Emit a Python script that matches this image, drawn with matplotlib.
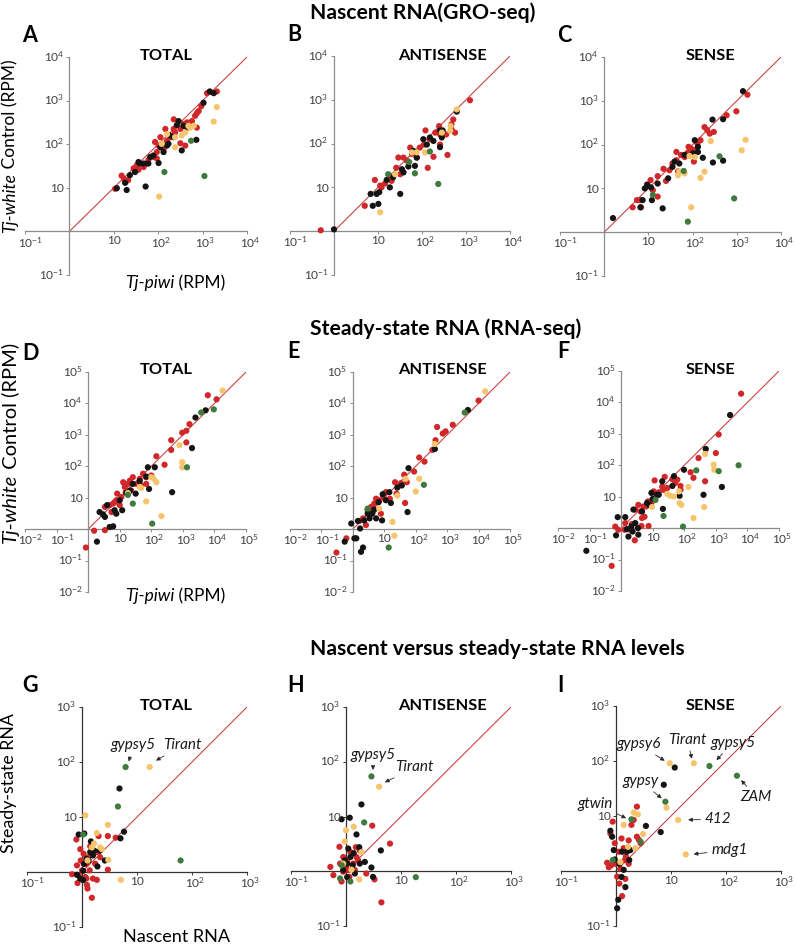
import numpy as np
import matplotlib
matplotlib.use('Agg')
import matplotlib.pyplot as plt
from matplotlib.ticker import NullLocator

# ---------------- data (RPM values) ----------------
# Row 1: Nascent RNA (GRO-seq); x = Tj-piwi, y = Tj-white control
A_red = [(10.7, 9.5), (15, 19), (21, 15), (28, 28), (33, 33), (47, 30), (60, 43), (78, 51), (93, 66),
         (102, 93), (120, 102), (132, 78), (158, 120), (145, 224), (186, 145), (224, 224), (240, 186),
         (316, 224), (372, 288), (447, 316), (575, 339), (676, 447), (741, 240), (813, 575), (933, 741),
         (741, 513), (1480, 1580), (2090, 1620), (316, 105), (407, 93), (93, 47), (55, 36), (36, 26),
         (17, 16), (224, 372), (112, 145), (85, 112), (1260, 1480)]
A_black = [(11.7, 9.8), (18, 13), (19.5, 8.9), (23, 19.5), (30, 23), (36, 39), (47, 36), (52, 10.7),
           (60, 36), (66, 51), (78, 55), (102, 37), (112, 85), (132, 66), (158, 93), (186, 158), (224, 145),
           (263, 275), (288, 339), (339, 72), (372, 263), (447, 240), (724, 126), (1050, 891), (1450, 1620),
           (1780, 1480), (39, 36), (170, 102)]
A_yellow = [(105, 6.3), (120, 102), (240, 85), (240, 145), (339, 158), (407, 186), (525, 240), (631, 263),
            (1780, 331), (2090, 708), (479, 263), (158, 170)]
A_green = [(138, 23), (550, 120), (1100, 18.6)]

B_red = [(0.5, 1.05), (5.0, 3.8), (8.5, 14.8), (12, 10), (14.5, 12.3), (18.2, 18.6), (20.4, 14.1), (26, 28),
         (32, 20), (38, 48), (45, 41), (59, 58), (63, 68), (76, 48), (89, 81), (120, 200), (135, 28),
         (151, 126), (182, 50), (200, 178), (257, 162), (257, 95), (245, 251), (355, 162), (380, 55),
         (468, 214), (513, 355), (562, 178), (1230, 977), (468, 275), (54, 81), (29, 48), (11.2, 11), (112, 95)]
B_black = [(1.0, 1.1), (6.8, 7.1), (7.6, 3.8), (9.3, 7.1), (10.2, 4.2), (10.7, 7.8), (15.8, 14.8), (18.6, 10),
           (22, 17), (32, 7.1), (35, 26), (38, 22), (49, 30), (69, 31), (76, 48), (107, 126), (129, 95),
           (151, 138), (182, 115), (257, 200), (282, 138), (295, 200), (257, 83), (617, 537), (63, 68)]
B_yellow = [(11.2, 2.7), (24.5, 20), (76, 63), (117, 63), (282, 178), (437, 195), (617, 603), (59, 63), (447, 251)]
B_green = [(17, 20), (51, 38), (69, 21), (151, 66), (234, 12)]

C_red = [(4.4, 3.7), (5.5, 5.4), (6.6, 5.4), (6.8, 3.7), (9.3, 12.3), (11.2, 15.5), (12.6, 9.1), (16.2, 6.5),
         (16.2, 19), (22, 28), (25, 14.8), (30, 26), (35, 37), (43, 44), (47, 24.5), (55, 58), (66, 52),
         (78, 65), (93, 81), (112, 74), (129, 105), (151, 126), (107, 41), (186, 251), (214, 214), (245, 178),
         (302, 195), (589, 468), (977, 575), (1740, 1380), (43, 68), (81, 89)]
C_black = [(1.58, 2.1), (6.6, 3.7), (7.4, 5.4), (8.3, 10), (9.5, 12), (11.5, 10.5), (12, 5.4), (16.2, 12.9),
           (21, 3.5), (28, 17), (35, 31), (39, 41), (50, 37), (66, 58), (102, 63), (112, 126), (132, 68),
           (170, 50), (288, 39), (282, 372), (490, 380), (490, 43), (1380, 1660), (132, 89)]
C_yellow = [(47, 20), (50, 24.5), (66, 22), (93, 3.7), (112, 52), (151, 17.4), (186, 24), (257, 120),
            (1290, 74), (1580, 129), (85, 55)]
C_green = [(12.6, 7.1), (63, 25), (78, 1.74), (407, 54), (871, 5.9)]

# Row 2: Steady-state RNA (RNA-seq)
D_red = [(0.85, 0.26), (1.55, 0.89), (3.4, 0.93), (3.4, 5.1), (4.8, 5.8), (5.5, 3.5), (6.9, 7.2), (8.3, 13.5),
         (10, 5.8), (11.2, 10.5), (14.5, 22), (15.5, 15), (18.2, 27.5), (23, 17), (26, 45), (34, 27.5),
         (43, 40), (55, 58), (69, 27.5), (100, 51), (145, 209), (263, 112), (427, 331), (427, 676),
         (955, 1170), (1290, 575), (1290, 1350), (1620, 2190), (6170, 18200), (11700, 13500), (7.8, 8.3),
         (21, 35), (69, 45), (48, 24.5), (6.2, 6.5), (12.9, 31)]
D_black = [(1.9, 0.4), (2.3, 3.5), (3.4, 2.45), (4.0, 5.8), (4.8, 1.17), (6.2, 1.23), (6.9, 4.0), (7.8, 3.1),
           (10, 8.3), (12, 4.0), (16.2, 14.1), (21, 17), (26, 27.5), (32, 13.5), (43, 34), (69, 47), (78, 93),
           (129, 93), (85, 19), (457, 15), (1950, 380), (2510, 3550), (5250, 6030), (2.95, 2.95)]
D_yellow = [(18.2, 14.1), (43, 22), (48, 20.4), (69, 7.6), (100, 45), (120, 40), (145, 31), (209, 2.6),
            (776, 468), (955, 135), (955, 93), (18200, 25700)]
D_green = [(18.2, 12.3), (26, 6.5), (107, 1.5), (1350, 93), (3800, 5130), (9550, 6460)]

E_red = [(0.3, 0.18), (0.62, 0.51), (1.62, 1.82), (2.1, 2.2), (2.6, 1.35), (2.95, 4.0), (3.8, 5.1), (4.3, 3.5),
         (4.8, 6.5), (5.5, 9.3), (6.9, 8.3), (7.8, 3.1), (9.3, 10.5), (11.2, 15), (15, 9.3), (22, 31),
         (24.5, 13.5), (34, 29), (43, 54), (46, 6.8), (52, 31), (89, 68), (129, 190), (190, 141), (339, 331),
         (427, 676), (479, 1780), (724, 1100), (891, 1290), (1510, 2090), (10000, 12300), (6.2, 7.2)]
E_black = [(0.55, 0.4), (0.89, 1.51), (1.12, 0.51), (1.29, 0.51), (1.45, 1.82), (1.7, 1.05), (1.82, 0.19),
           (2.1, 0.26), (2.3, 1.9), (2.95, 3.1), (3.4, 2.2), (4.1, 3.1), (4.8, 4.2), (5.5, 2.2), (6.6, 7.2),
           (8.5, 1.9), (8.9, 12.9), (11.2, 8.3), (14.5, 15), (16.2, 6.8), (26, 21), (36, 24.5), (55, 3.5),
           (59, 87), (407, 355), (4570, 6170)]
E_yellow = [(21, 0.62), (18.2, 1.7), (26, 11.7), (100, 15.8), (129, 40), (48, 40), (407, 513), (16200, 24500), (6.9, 4.5)]
E_green = [(2.95, 4.5), (13.8, 0.26), (182, 25.7), (3630, 5130)]

F_red = [(0.5, 0.063), (0.65, 1.12), (0.81, 0.89), (1.29, 0.89), (1.95, 0.89), (2.2, 1.35), (2.7, 0.41),
         (2.8, 3.9), (3.5, 5.5), (4.1, 3.4), (4.4, 1.17), (4.6, 2.1), (5.5, 2.3), (6.2, 4.9), (7.1, 7.1),
         (7.4, 1.17), (9.1, 6.3), (10.7, 14.8), (11.5, 33), (15.5, 13.8), (22, 16.6), (24, 43), (29, 19),
         (42, 36), (52, 27.5), (60, 35), (76, 22), (76, 16.6), (158, 60), (195, 40), (282, 170), (457, 31),
         (1000, 245), (1230, 955), (6310, 19000), (20, 21), (5.1, 4.9), (1.35, 1.45)]
F_black = [(0.079, 0.19), (0.69, 0.59), (0.78, 2.24), (1.35, 2.24), (1.51, 0.93), (1.7, 0.54), (2.1, 1.12),
           (2.3, 0.78), (2.45, 3.9), (2.8, 1.45), (3.4, 1.0), (3.5, 0.62), (4.6, 3.4), (6.6, 6.3), (7.8, 5.5),
           (9.1, 13.2), (10, 8.5), (13.8, 11.5), (15.5, 11.5), (20, 31), (21, 4.1), (42, 22), (47, 45),
           (71, 10.7), (98, 72), (407, 11.5), (479, 331), (1550, 20.4), (2820, 3980)]
F_yellow = [(9.5, 4.7), (29, 12.3), (36, 10.7), (47, 10.2), (68, 14.8), (71, 6.3), (81, 5.5), (135, 20.4),
            (195, 2.1), (427, 4.7), (457, 229), (851, 105), (891, 72)]
F_green = [(12.3, 7.9), (22, 2.45), (91, 1.12), (240, 69), (1230, 65), (5250, 100)]

# Row 3: nascent (x) versus steady-state (y)
G_red = [(0.66, 0.91), (0.79, 3.9), (0.81, 1.32), (0.83, 0.63), (0.93, 2.6), (0.95, 1.62), (1.0, 1.07),
         (1.07, 2.14), (1.15, 0.81), (1.2, 1.41), (1.23, 0.58), (1.26, 0.5), (1.32, 1.86), (1.38, 1.07),
         (1.51, 0.34), (1.58, 0.76), (1.62, 2.45), (1.74, 1.41), (1.86, 0.72), (2.0, 4.5), (2.14, 1.86),
         (2.95, 1.1), (2.95, 4.5), (4.1, 4.2), (1.41, 2.95), (0.87, 0.87), (1.2, 0.76), (1.07, 1.41), (1.86, 2.3)]
G_black = [(0.81, 0.89), (0.87, 4.8), (0.93, 0.76), (1.05, 0.71), (1.1, 5.0), (1.1, 1.41), (1.2, 1.74),
           (1.32, 1.62), (1.41, 2.3), (1.45, 3.6), (1.58, 2.0), (1.66, 2.45), (1.91, 1.26), (2.1, 2.45),
           (2.6, 1.62), (4.8, 33), (5.0, 4.1), (5.8, 5.4), (1.05, 1.05)]
G_yellow = [(1.15, 10.7), (1.26, 1.62), (1.51, 2.8), (1.86, 5.1), (2.14, 2.8), (2.3, 2.6), (2.95, 7.2),
            (3.0, 1.66), (5.1, 0.72), (17, 81), (1.66, 3.3)]
G_green = [(1.05, 4.8), (4.5, 15.5), (6.2, 81), (62, 1.62)]

H_red = [(0.52, 1.2), (0.59, 0.85), (0.76, 2.8), (0.78, 1.38), (0.83, 0.65), (0.89, 1.82), (1.0, 1.2),
         (1.05, 1.58), (1.15, 0.79), (1.2, 2.24), (1.35, 1.38), (1.45, 1.05), (1.51, 2.75), (1.66, 1.58),
         (1.78, 2.4), (2.34, 0.91), (3.0, 6.8), (3.3, 0.71), (4.4, 0.27), (6.3, 3.2), (1.1, 1.05),
         (0.89, 0.98), (1.55, 1.82)]
H_black = [(0.83, 8.9), (1.05, 0.78), (1.17, 9.5), (0.95, 1.58), (1.05, 1.38), (1.1, 2.6), (1.2, 1.82),
           (1.32, 1.29), (1.45, 0.91), (1.55, 4.7), (1.74, 2.75), (1.78, 1.38), (2.2, 1.48), (1.91, 16.6),
           (2.9, 1.17), (3.1, 0.79), (4.3, 2.4), (1.38, 2.14), (0.89, 1.05)]
H_yellow = [(0.95, 3.5), (1.0, 5.6), (0.89, 1.38), (1.38, 6.5), (1.74, 0.71), (1.91, 2.24), (4.0, 35), (1.26, 1.07)]
H_green = [(0.83, 1.29), (0.78, 0.74), (1.2, 0.65), (2.14, 7.8), (2.9, 54), (18.6, 0.78)]

I_red = [(0.69, 1.41), (0.74, 1.17), (0.79, 4.8), (0.87, 7.9), (0.95, 3.2), (0.98, 1.35), (1.05, 0.79),
         (1.12, 2.24), (1.15, 0.59), (1.2, 1.1), (1.29, 0.35), (1.38, 2.6), (1.45, 1.58), (1.48, 0.72),
         (1.7, 3.6), (1.91, 6.9), (2.1, 8.5), (2.4, 14.8), (2.4, 4.2), (2.6, 3.7), (2.8, 3.2), (1.7, 1.35),
         (0.81, 1.26), (1.51, 1.82), (1.26, 3.9)]
I_black = [(0.79, 5.4), (0.85, 4.2), (0.91, 2.4), (1.05, 0.21), (1.1, 0.3), (1.15, 1.35), (1.26, 0.78),
           (1.29, 2.24), (1.38, 1.05), (1.48, 0.51), (1.58, 2.24), (1.82, 2.4), (3.5, 6.6), (6.5, 5.1),
           (7.4, 37), (11.7, 76), (0.95, 1.62), (1.74, 1.58)]
I_yellow = [(1.38, 6.9), (1.66, 2.75), (2.1, 11.5), (2.5, 10.7), (3.1, 4.7), (1.2, 1.45), (8.3, 14.1),
            (9.5, 91), (13.5, 8.5), (18.6, 2.0), (26, 91), (2.24, 2.6)]
I_green = [(0.87, 1.58), (1.91, 8.7), (2.8, 3.4), (7.9, 18.2), (50, 81), (158, 54)]

# element names annotated in panels G-I: (label, point, text position)
G_names = [('gypsy5', (6.9, 91), (8.4, 200)), ('Tirant', (20, 100), (66, 200))]
H_names = [('gypsy5', (3.1, 63), (3.1, 135)), ('Tirant', (4.6, 40), (17.8, 79))]
I_names = [('gypsy6', (8.5, 95), (2.6, 200)), ('Tirant', (24.5, 98), (20, 245)),
           ('gypsy5', (62, 95), (132, 214)), ('gypsy', (7.4, 19.5), (2.8, 43)),
           ('ZAM', (174, 49), (355, 22)), ('gtwin', (1.7, 8.7), (0.42, 16.6)),
           ('412', (18.2, 8.5), (71, 8.7)), ('mdg1', (23, 2.0), (115, 2.4))]

row1_ticks = [0.1, 10, 100, 1000, 10000]
row2_ticks = [0.01, 0.1, 10, 100, 1000, 10000, 100000]
row3_ticks = [0.1, 10, 100, 1000]

section_titles = ['Nascent RNA(GRO-seq)', 'Steady-state RNA (RNA-seq)', 'Nascent versus steady-state RNA levels']
panel_titles = ['TOTAL', 'ANTISENSE', 'SENSE']

# ---------------- style ----------------
plt.rcParams['font.family'] = ['Lato', 'DejaVu Sans']
plt.rcParams['mathtext.fontset'] = 'custom'
plt.rcParams['mathtext.rm'] = 'Lato'
plt.rcParams['mathtext.it'] = 'Lato:italic'
plt.rcParams['mathtext.bf'] = 'Lato:bold'

RED, BLACK, YEL, GRN = '#d0282a', '#141414', '#f7c46e', '#3f7b3f'
LINE = '#c8454a'
TICKC = '#404040'
TF = 8.6

W, H = 795, 947
fig = plt.figure(figsize=(W / 100, H / 100), dpi=100)


def fx(x):
    return x / W


def fy(y):
    return 1 - y / H


def tick_text(v):
    e = int(round(np.log10(v)))
    if e == 1:
        return '10', 0.0
    sh = 4.2 if e < 0 else 2.1
    return r'$\mathregular{10^{%d}}$' % e, sh


def make_panel(rect, lo, hi, ticks, series, spine_col):
    x0, yt, x1, yb = rect
    ax = fig.add_axes([fx(x0), fy(yb), (x1 - x0) / W, (yb - yt) / H])
    ax.set_xscale('log')
    ax.set_yscale('log')
    ax.set_xlim(lo, hi)
    ax.set_ylim(lo, hi)
    ax.patch.set_alpha(0)
    for s in ['top', 'right']:
        ax.spines[s].set_visible(False)
    for s in ['left', 'bottom']:
        ax.spines[s].set_position(('data', 1))
        ax.spines[s].set_color(spine_col)
        ax.spines[s].set_linewidth(0.9)
    ax.set_xticks(ticks)
    ax.set_yticks(ticks)
    ax.xaxis.set_minor_locator(NullLocator())
    ax.yaxis.set_minor_locator(NullLocator())
    ax.set_xticklabels([])
    ax.set_yticklabels([])
    ax.tick_params(length=2, width=0.7, color=spine_col, direction='out')
    ax.plot([1, hi], [1, hi], color=LINE, lw=0.8, zorder=1)
    for pts, col in series:
        xs = [p[0] for p in pts]
        ys = [p[1] for p in pts]
        ax.scatter(xs, ys, s=20, c=col, edgecolors='none', zorder=3, clip_on=False)
    for v in ticks:
        txt, dx = tick_text(v)
        ax.annotate(txt, xy=(v, 1), xytext=(dx, -2.6), textcoords='offset points',
                    ha='center', va='top', fontsize=TF, color=TICKC, annotation_clip=False)
        ax.annotate(txt, xy=(1, v), xytext=(-3.8, -3.1), textcoords='offset points',
                    ha='right', va='baseline', fontsize=TF, color=TICKC, annotation_clip=False)
    return ax


def two_part_ylabel(ax, x, y, part1, part2, size):
    t1 = fig.text(fx(x), fy(y), part1, rotation=90, rotation_mode='anchor', ha='left',
                  va='baseline', fontsize=size, style='italic')
    ax.annotate(part2, xy=(fx(x), 1), xycoords=('figure fraction', t1), rotation=90,
                rotation_mode='anchor', ha='left', va='baseline', fontsize=size, annotation_clip=False)


def two_part_xlabel(ax, x, y, part1, part2, size):
    t1 = fig.text(fx(x), fy(y), part1, ha='left', va='baseline', fontsize=size, style='italic')
    ax.annotate(part2, xy=(1, fy(y)), xycoords=(t1, 'figure fraction'), ha='left',
                va='baseline', fontsize=size, annotation_clip=False)


def names(ax, items):
    for lab, pt, tp in items:
        ax.annotate(lab, xy=pt, xytext=tp, ha='center', va='center', fontsize=11, style='italic',
                    color='#1a1a1a', annotation_clip=False,
                    arrowprops=dict(arrowstyle='-|>', color='#2a2a2a', lw=0.6, mutation_scale=6,
                                    shrinkA=1, shrinkB=2))


G1 = '#8c8c8c'
G3 = '#333333'

axA = make_panel((25, 57, 247, 275), 0.1, 1e4, row1_ticks,
                 [(A_red, RED), (A_black, BLACK), (A_yellow, YEL), (A_green, GRN)], G1)
axB = make_panel((290, 56, 510, 275), 0.1, 1e4, row1_ticks,
                 [(B_red, RED), (B_black, BLACK), (B_yellow, YEL), (B_green, GRN)], G1)
axC = make_panel((560, 57, 781, 276), 0.1, 1e4, row1_ticks,
                 [(C_red, RED), (C_black, BLACK), (C_yellow, YEL), (C_green, GRN)], G1)
axD = make_panel((25, 372, 246, 592), 0.01, 1e5, row2_ticks,
                 [(D_red, RED), (D_black, BLACK), (D_yellow, YEL), (D_green, GRN)], G1)
axE = make_panel((290, 372, 510, 592), 0.01, 1e5, row2_ticks,
                 [(E_red, RED), (E_black, BLACK), (E_yellow, YEL), (E_green, GRN)], G1)
axF = make_panel((558, 371, 779, 591), 0.01, 1e5, row2_ticks,
                 [(F_red, RED), (F_black, BLACK), (F_yellow, YEL), (F_green, GRN)], G1)
axG = make_panel((27, 707, 247, 927), 0.1, 1e3, row3_ticks,
                 [(G_red, RED), (G_black, BLACK), (G_yellow, YEL), (G_green, GRN)], G3)
axH = make_panel((291, 707, 511, 926), 0.1, 1e3, row3_ticks,
                 [(H_red, RED), (H_black, BLACK), (H_yellow, YEL), (H_green, GRN)], G3)
axI = make_panel((561, 706, 781, 926), 0.1, 1e3, row3_ticks,
                 [(I_red, RED), (I_black, BLACK), (I_yellow, YEL), (I_green, GRN)], G3)

names(axG, G_names)
names(axH, H_names)
names(axI, I_names)

# section titles
for title, y in zip(section_titles, [19, 335, 655]):
    fig.text(fx(310), fy(y), title, ha='left', va='baseline', fontsize=15.2, fontweight='bold')

# panel letters
letters = [('A', 22, 42), ('B', 287, 41), ('C', 557, 42),
           ('D', 22, 360), ('E', 287, 358), ('F', 557, 358),
           ('G', 22, 692), ('H', 287, 692), ('I', 557, 692)]
for lt, x, y in letters:
    fig.text(fx(x), fy(y), lt, ha='left', va='baseline', fontsize=15.5, fontweight='bold')

# panel titles
for yb in [60, 374, 710]:
    for t, xc in zip(panel_titles, [166, 442, 710]):
        fig.text(fx(xc), fy(yb), t, ha='center', va='baseline', fontsize=11.8, fontweight='bold')

# axis labels
two_part_ylabel(axA, 15, 233, 'Tj-white', ' Control (RPM)', 12.5)
two_part_xlabel(axA, 125, 288, 'Tj-piwi', ' (RPM)', 12.5)
two_part_ylabel(axD, 16, 543, 'Tj-white', ' Control (RPM)', 14.5)
two_part_xlabel(axD, 125, 601, 'Tj-piwi', ' (RPM)', 12.5)
fig.text(fx(14), fy(853), 'Steady-state RNA', rotation=90, rotation_mode='anchor',
         ha='left', va='baseline', fontsize=12.8)
fig.text(fx(123), fy(942), 'Nascent RNA', ha='left', va='baseline', fontsize=13)

fig.savefig('out.png', dpi=100)
